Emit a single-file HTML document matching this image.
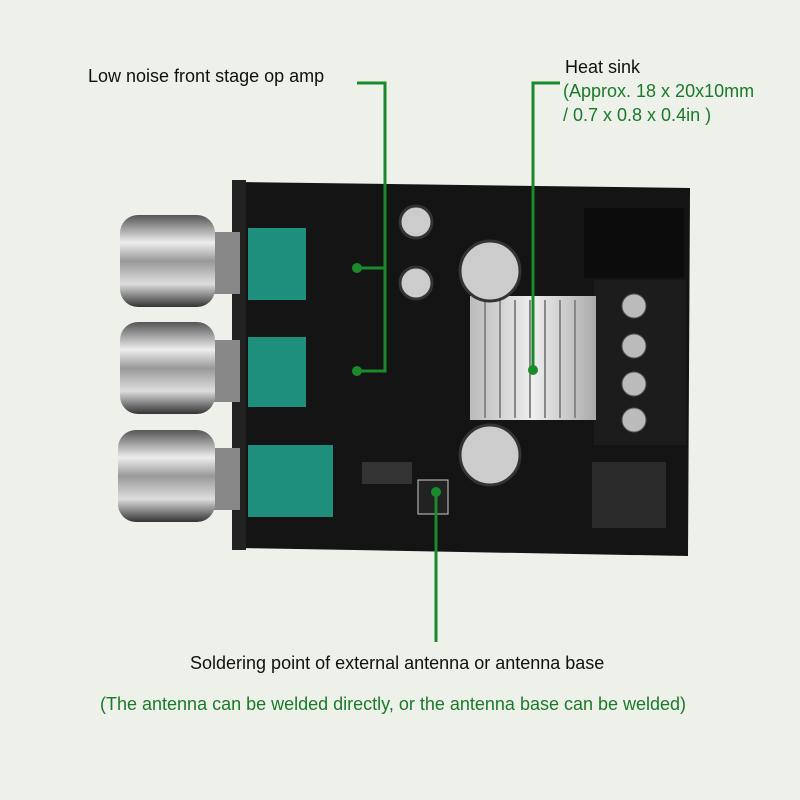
<!DOCTYPE html>
<html><head><meta charset="utf-8"><style>
body{margin:0;width:800px;height:800px;background:#eef0ea;position:relative;overflow:hidden;font-family:"Liberation Sans",sans-serif}
.t{position:absolute;font-size:18px;line-height:21px;color:#111;white-space:nowrap}
.g{color:#1a7a2a}
</style></head><body>
<svg width="800" height="800" style="position:absolute;left:0;top:0">
<defs>
<linearGradient id="kn" x1="0" y1="0" x2="0" y2="1">
<stop offset="0" stop-color="#555"/><stop offset=".3" stop-color="#eee"/><stop offset=".5" stop-color="#999"/><stop offset=".75" stop-color="#ddd"/><stop offset="1" stop-color="#333"/></linearGradient>
<linearGradient id="hs" x1="0" y1="0" x2="1" y2="0">
<stop offset="0" stop-color="#bbb"/><stop offset=".5" stop-color="#eee"/><stop offset="1" stop-color="#aaa"/></linearGradient>
</defs>
<polygon points="238,182 690,188 688,556 238,548" fill="#141414"/>
<rect x="232" y="180" width="14" height="370" fill="#222"/>
<rect x="594" y="280" width="92" height="165" fill="#1c1c1c"/>
<g fill="#bbb" stroke="#555">
<circle cx="634" cy="306" r="12"/><circle cx="634" cy="346" r="12"/><circle cx="634" cy="384" r="12"/><circle cx="634" cy="420" r="12"/>
</g>
<rect x="584" y="208" width="100" height="70" fill="#0c0c0c"/>
<rect x="592" y="462" width="74" height="66" fill="#2a2a2a"/>
<rect x="470" y="296" width="126" height="124" fill="url(#hs)"/>
<g stroke="#888" stroke-width="2">
<line x1="485" y1="300" x2="485" y2="418"/><line x1="500" y1="300" x2="500" y2="418"/><line x1="515" y1="300" x2="515" y2="418"/><line x1="530" y1="300" x2="530" y2="418"/><line x1="545" y1="300" x2="545" y2="418"/><line x1="560" y1="300" x2="560" y2="418"/><line x1="575" y1="300" x2="575" y2="418"/></g>
<g fill="#ccc" stroke="#333" stroke-width="3">
<circle cx="416" cy="222" r="16"/><circle cx="416" cy="283" r="16"/><circle cx="490" cy="271" r="30"/><circle cx="490" cy="455" r="30"/></g>
<rect x="362" y="462" width="50" height="22" fill="#333"/>
<rect x="418" y="480" width="30" height="34" fill="#222" stroke="#ccc"/>
<g fill="#1e8f7c"><rect x="248" y="228" width="58" height="72"/><rect x="248" y="337" width="58" height="70"/><rect x="248" y="445" width="85" height="72"/></g>
<g>
<rect x="210" y="232" width="30" height="62" fill="#888"/>
<rect x="120" y="215" width="95" height="92" rx="18" fill="url(#kn)"/>
<rect x="210" y="340" width="30" height="62" fill="#888"/>
<rect x="120" y="322" width="95" height="92" rx="18" fill="url(#kn)"/>
<rect x="210" y="448" width="30" height="62" fill="#888"/>
<rect x="118" y="430" width="97" height="92" rx="18" fill="url(#kn)"/>
</g>
<g stroke="#1a8a2a" stroke-width="3" fill="none">
<polyline points="357,83 385,83 385,371 357,371"/>
<line x1="357" y1="268" x2="385" y2="268"/>
<polyline points="560,83 533,83 533,370"/>
<line x1="436" y1="490" x2="436" y2="642"/>
</g>
<g fill="#1a8a2a"><circle cx="357" cy="268" r="5"/><circle cx="357" cy="371" r="5"/><circle cx="533" cy="370" r="5"/><circle cx="436" cy="492" r="5"/></g>
</svg>
<div class="t" style="left:88px;top:66px">Low noise front stage op amp</div>
<div class="t" style="left:565px;top:57px">Heat sink</div>
<div class="t g" style="left:563px;top:81px">(Approx. 18 x 20x10mm</div>
<div class="t g" style="left:563px;top:105px">/ 0.7 x 0.8 x 0.4in )</div>
<div class="t" style="left:190px;top:653px">Soldering point of external antenna or antenna base</div>
<div class="t g" style="left:100px;top:694px">(The antenna can be welded directly, or the antenna base can be welded)</div>
</body></html>
